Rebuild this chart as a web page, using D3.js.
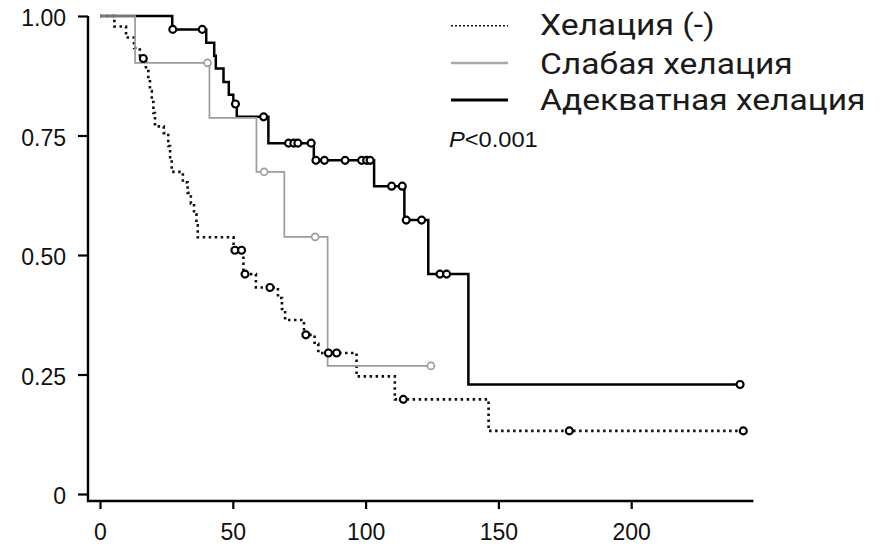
<!DOCTYPE html>
<html>
<head>
<meta charset="utf-8">
<script src="https://cdn.jsdelivr.net/npm/d3@7"></script>
<style>
  html, body { margin: 0; padding: 0; background: #fff; }
  svg { display: block; }
</style>
</head>
<body>
<svg id="chart" width="883" height="547"></svg>
<script>
// Kaplan–Meier survival estimates: [time, survival after the event at that time]
const groupNames = ["Хелация (-)", "Слабая хелация", "Адекватная хелация"];

const noneSteps = [
  [0, 1], [5.4, 0.978], [9.8, 0.955], [12.8, 0.933], [15, 0.911],
  [17.3, 0.889], [18.2, 0.866], [18.8, 0.843], [19.5, 0.82], [20.1, 0.797], [20.7, 0.769],
  [24, 0.755], [25.7, 0.728], [26.4, 0.701], [27, 0.674],
  [31.2, 0.652], [33, 0.63], [34.2, 0.608], [35.4, 0.585], [36.3, 0.562], [36.8, 0.537],
  [50.3, 0.51], [54, 0.46], [58.7, 0.432],
  [67, 0.41], [68.5, 0.387], [69.7, 0.364],
  [76.8, 0.333], [80.8, 0.314], [82.2, 0.295],
  [96.6, 0.246], [111, 0.198], [146.3, 0.132]
];
const noneCensored = [
  [16.3, 0.911], [50.8, 0.51], [53.3, 0.51], [54.6, 0.46], [64, 0.432],
  [77.5, 0.333], [86, 0.295], [89.1, 0.295], [114.2, 0.198],
  [176.7, 0.132], [242.2, 0.132]
];

const weakSteps = [
  [0, 1], [13.2, 0.902], [41.2, 0.787], [58.9, 0.674], [69.4, 0.538], [85.7, 0.268]
];
const weakCensored = [
  [40.5, 0.902], [61.8, 0.674], [81, 0.538], [124.6, 0.268]
];

const adequateSteps = [
  [0, 1], [27.2, 0.972],
  [40, 0.944], [43, 0.917], [43.6, 0.89], [46.5, 0.862], [48.5, 0.835], [50.2, 0.816],
  [51.5, 0.789], [63.4, 0.734], [80.5, 0.698], [103.2, 0.644],
  [114.6, 0.573], [123.6, 0.46], [138.7, 0.229]
];
const adequateCensored = [
  [27.4, 0.972], [38.5, 0.972], [51, 0.816], [61.6, 0.789],
  [71, 0.734], [73, 0.734], [74.5, 0.734], [79.5, 0.734],
  [81.3, 0.698], [84.5, 0.698], [92.3, 0.698], [98.5, 0.698], [100.4, 0.698], [101.7, 0.698],
  [109.8, 0.644], [113.8, 0.644], [115.3, 0.573], [121.1, 0.573],
  [128, 0.46], [130.5, 0.46], [241, 0.229]
];

const xTicks = [0, 50, 100, 150, 200];
const yTicks = [0, 0.25, 0.5, 0.75, 1];
const pLabel = "<0.001";

const svg = d3.select("#chart");

const x = d3.scaleLinear().domain([0, 200]).range([100, 631.2]);
const y = d3.scaleLinear().domain([0, 1]).range([494, 16]);

const axisX = 88;     // y-axis line position
const axisY = 501;    // x-axis line position
const xEnd = x(246);
const tickFont = "'Liberation Sans', Arial, sans-serif";

// axes
const gy = svg.append("g")
  .attr("transform", `translate(${axisX},0)`)
  .call(d3.axisLeft(y).tickValues(yTicks).tickSize(10).tickPadding(12)
    .tickFormat(d => d === 0 ? "0" : d3.format(".2f")(d)));
gy.select(".domain").remove();
gy.selectAll(".tick line").attr("stroke", "#000").attr("stroke-width", 2.2);
gy.selectAll(".tick text")
  .attr("font-family", tickFont)
  .attr("font-size", 23).attr("fill", "#111").attr("dy", "0.42em");

const gx = svg.append("g")
  .attr("transform", `translate(0,${axisY})`)
  .call(d3.axisBottom(x).tickValues(xTicks).tickSize(8).tickPadding(15)
    .tickFormat(d3.format("d")));
gx.select(".domain").remove();
gx.selectAll(".tick line").attr("stroke", "#000").attr("stroke-width", 2.2);
gx.selectAll(".tick text")
  .attr("font-family", tickFont)
  .attr("font-size", 23).attr("fill", "#111");

svg.append("path")
  .attr("d", `M${axisX},${y(1)}V${axisY}H${xEnd}`)
  .attr("fill", "none").attr("stroke", "#000").attr("stroke-width", 2.4);

// survival curves
const line = d3.line().x(d => x(d[0])).y(d => y(d[1])).curve(d3.curveStepAfter);

const series = [
  { steps: adequateSteps, censored: adequateCensored, end: 241,
    stroke: "#000", mark: "#000", width: 2.5, dash: null },
  { steps: noneSteps, censored: noneCensored, end: 242.2,
    stroke: "#111", mark: "#000", width: 2.6, dash: "2.5,3.5" },
  { steps: weakSteps, censored: weakCensored, end: 124.6,
    stroke: "#9c9c9c", mark: "#9c9c9c", width: 1.7, dash: null }
];

series.forEach(s => {
  const pts = s.steps.concat([[s.end, s.steps[s.steps.length - 1][1]]]);
  svg.append("path")
    .attr("d", line(pts))
    .attr("fill", "none")
    .attr("stroke", s.stroke)
    .attr("stroke-width", s.width)
    .attr("stroke-dasharray", s.dash);
});

// censoring marks
series.forEach(s => {
  svg.append("g").selectAll("circle")
    .data(s.censored)
    .join("circle")
    .attr("cx", d => x(d[0]))
    .attr("cy", d => y(d[1]))
    .attr("r", 3.5)
    .attr("fill", "#fff")
    .attr("stroke", s.mark)
    .attr("stroke-width", s.mark === "#000" ? 2.1 : 1.6);
});

// legend
const legend = [
  { name: groupNames[0], stroke: "#111", width: 1.6, dash: "2,2", ly: 25.7, ty: 34.5 },
  { name: groupNames[1], stroke: "#a8a8a8", width: 2.6, dash: null, ly: 63, ty: 74 },
  { name: groupNames[2], stroke: "#000", width: 2.8, dash: null, ly: 100, ty: 110 }
];
const lg = svg.append("g");
legend.forEach(l => {
  lg.append("line")
    .attr("x1", 451).attr("x2", 508).attr("y1", l.ly).attr("y2", l.ly)
    .attr("stroke", l.stroke).attr("stroke-width", l.width)
    .attr("stroke-dasharray", l.dash);
  lg.append("text")
    .attr("transform", `translate(540,${l.ty}) scale(1.12,1)`)
    .attr("font-family", "Roboto, sans-serif")
    .attr("font-size", 30).attr("fill", "#1a1a1a")
    .text(l.name);
});

const pt = svg.append("text")
  .attr("transform", "translate(449,147) scale(1.1,1)")
  .attr("font-family", tickFont)
  .attr("font-size", 21.5).attr("fill", "#111");
pt.append("tspan").attr("font-style", "italic").text("P");
pt.append("tspan").text(pLabel);
</script>
</body>
</html>
